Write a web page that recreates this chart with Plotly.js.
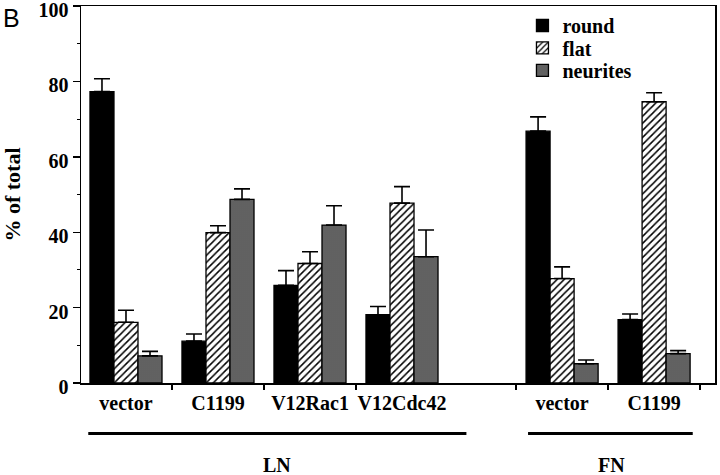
<!DOCTYPE html>
<html>
<head>
<meta charset="utf-8">
<script src="https://cdn.plot.ly/plotly-3.0.1.min.js"></script>
<style>html,body{margin:0;padding:0;background:#fff;}#chart{width:720px;height:475px;}</style>
</head>
<body>
<div id="chart"></div>
<script>
// Data
var categories = ['vector', 'C1199', 'V12Rac1', 'V12Cdc42', 'vector', 'C1199'];
var groupPos = [0, 1, 2, 3, 4.74, 5.74];
var substrates = ['LN', 'FN'];
var seriesNames = ['round', 'flat', 'neurites'];
var roundVals = [77.3, 11.1, 25.9, 18.1, 66.8, 16.8];
var roundErr = [3.4, 1.9, 3.9, 2.2, 3.8, 1.5];
var flatVals = [16.1, 39.9, 31.7, 47.7, 27.7, 74.6];
var flatErr = [3.2, 1.8, 3.1, 4.4, 3.1, 2.4];
var neuritesVals = [7.2, 48.7, 41.9, 33.5, 5.1, 7.8];
var neuritesErr = [1.2, 2.8, 5.1, 7.1, 1.0, 0.8];
var yTicks = [0, 20, 40, 60, 80, 100];

var serif = 'Liberation Serif, Times New Roman, serif';
function zeros(a){ return a.map(function(){ return 0; }); }
function errBar(arr){
  return {type:'data', symmetric:false, array:arr, arrayminus:zeros(arr),
          color:'#000', thickness:1.6, width:8, visible:true};
}
var outline = {color:'#000', width:1.3};

var traces = [
  {type:'bar', name:seriesNames[0], x:groupPos, y:roundVals, error_y:errBar(roundErr),
   legend:'legend', marker:{color:'#000', line:outline}},
  {type:'bar', name:seriesNames[1], x:groupPos, y:flatVals, error_y:errBar(flatErr),
   legend:'legend2', marker:{color:'#fff', line:outline,
     pattern:{shape:'/', fgcolor:'#000', bgcolor:'#fff', size:5, solidity:0.3, fillmode:'replace'}}},
  {type:'bar', name:seriesNames[2], x:groupPos, y:neuritesVals, error_y:errBar(neuritesErr),
   legend:'legend3', marker:{color:'#666666', line:outline,
     pattern:{shape:'.', fgcolor:'#4c4c4c', bgcolor:'#6e6e6e', size:2, solidity:0.4, fillmode:'replace'}}}
];

var boundaryTicks = [0.5, 1.5, 2.5, 4.24, 5.24, 6.24];
var legFont = {family:serif, size:20, color:'#000', weight:'bold'};
function leg(y){ return {x:0.6963, y:y, xanchor:'left', yanchor:'top', bgcolor:'rgba(0,0,0,0)', font:legFont}; }

var layout = {
  width:720, height:475,
  margin:{l:81, r:5, t:6, b:92},
  paper_bgcolor:'#fff', plot_bgcolor:'#fff',
  barmode:'group', bargap:0.217, bargroupgap:0,
  showlegend:true,
  legend:leg(1.0), legend2:leg(0.9404), legend3:leg(0.8808),
  xaxis:{range:[-0.489, 6.402], tickmode:'array', tickvals:groupPos, ticktext:categories,
         ticks:'', showgrid:false, zeroline:false, showline:true, linecolor:'#000', linewidth:1.5,
         mirror:true, ticklabelstandoff:1,
         tickfont:{family:serif, size:20, color:'#000', weight:'bold'},
         minor:{tickmode:'array', tickvals:boundaryTicks, ticks:'outside', ticklen:5, tickwidth:1.3, tickcolor:'#000', showgrid:false}},
  yaxis:{range:[0, 100], tickmode:'array', tickvals:yTicks, ticks:'outside', ticklen:7, tickwidth:1.4,
         tickcolor:'#000', showgrid:false, zeroline:false, showline:true, linecolor:'#000', linewidth:1.5,
         mirror:true, ticklabeloverflow:'allow', ticklabelshift:4,
         minor:{tickmode:'linear', tick0:10, dtick:20, ticks:'outside', ticklen:3, tickwidth:1.2, tickcolor:'#000', showgrid:false},
         tickfont:{family:serif, size:20, color:'#000', weight:'bold'},
         title:{text:'% of total', standoff:12, font:{family:serif, size:22, color:'#000', weight:'bold'}}},
  shapes:[
    {type:'line', xref:'x', yref:'paper', x0:-0.41, x1:3.70, y0:-0.134, y1:-0.134, line:{color:'#000', width:3}},
    {type:'line', xref:'x', yref:'paper', x0:4.37, x1:6.16, y0:-0.134, y1:-0.134, line:{color:'#000', width:3}}
  ],
  annotations:[
    {text:substrates[0], xref:'x', yref:'paper', x:1.64, y:-0.2185, xanchor:'center', yanchor:'middle', showarrow:false,
     font:{family:serif, size:20, color:'#000', weight:'bold'}},
    {text:substrates[1], xref:'x', yref:'paper', x:5.28, y:-0.2185, xanchor:'center', yanchor:'middle', showarrow:false,
     font:{family:serif, size:20, color:'#000', weight:'bold'}},
    {text:'B', xref:'paper', yref:'paper', x:-0.126, y:1.01, xanchor:'left', yanchor:'top', showarrow:false,
     font:{family:'Liberation Sans, Arial, sans-serif', size:25, color:'#000'}}
  ]
};

Plotly.newPlot('chart', traces, layout, {displayModeBar:false, staticPlot:true});
</script>
</body>
</html>
